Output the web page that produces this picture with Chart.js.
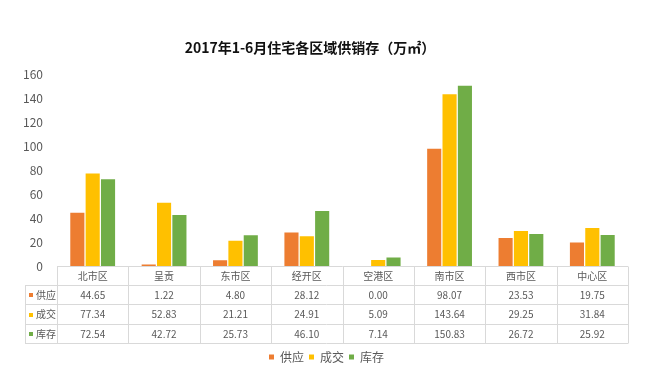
<!DOCTYPE html>
<html>
<head>
<meta charset="utf-8">
<script src="https://cdn.jsdelivr.net/npm/chart.js@4"></script>
<style>
html,body{margin:0;padding:0;background:#fff;}
#wrap{width:653px;height:369px;position:relative;}
</style>
</head>
<body>
<div id="wrap"><canvas id="c" width="653" height="369"></canvas></div>
<script>
const titleText = '2017年1-6月住宅各区域供销存（万㎡）';
const categories = ['北市区','呈贡','东市区','经开区','空港区','南市区','西市区','中心区'];
const seriesNames = ['供应','成交','库存'];
const supply = [44.65, 1.22, 4.80, 28.12, 0.00, 98.07, 23.53, 19.75];
const deal = [77.34, 52.83, 21.21, 24.91, 5.09, 143.64, 29.25, 31.84];
const stock = [72.54, 42.72, 25.73, 46.10, 7.14, 150.83, 26.72, 25.92];
const yTicks = [0, 20, 40, 60, 80, 100, 120, 140, 160];
const colors = ['#ED7D31', '#FFC000', '#70AD47'];

const FONT = "'Noto Sans CJK SC', 'Open Sans', sans-serif";
const TXT = '#595959';
const GRID = '#D9D9D9';

const seriesData = [supply, deal, stock];

const boxShift = {
  id: 'boxShift',
  afterLayout(chart) {
    if (chart.legend) chart.legend.right = chart.width;
    if (chart.titleBlock) chart.titleBlock.right -= 8;
  }
};

const tablePlugin = {
  id: 'dataTable',
  afterDraw(chart) {
    const ctx = chart.ctx;
    const xs = chart.scales.x;
    const area = chart.chartArea;
    const n = categories.length;
    const left = area.left, right = area.right;
    const w = (right - left) / n;
    const top = area.bottom;
    const rowH = 19.2;
    const labelLeft = 25;
    const ys = [top, top + rowH, top + 2 * rowH, top + 3 * rowH, top + 4 * rowH].map(v => Math.round(v) + 0.5);
    ctx.save();
    ctx.strokeStyle = GRID;
    ctx.lineWidth = 1;
    ctx.beginPath();
    ctx.moveTo(left, ys[0]); ctx.lineTo(right, ys[0]);
    for (let r = 1; r < ys.length; r++) { ctx.moveTo(labelLeft, ys[r]); ctx.lineTo(right, ys[r]); }
    ctx.moveTo(labelLeft + 0.5, ys[1]); ctx.lineTo(labelLeft + 0.5, ys[4]);
    for (let i = 0; i <= n; i++) {
      const x = Math.round(left + i * w) + 0.5;
      ctx.moveTo(x, ys[0]); ctx.lineTo(x, ys[4]);
    }
    ctx.stroke();
    ctx.fillStyle = TXT;
    ctx.font = '10px ' + FONT;
    ctx.textAlign = 'center';
    ctx.textBaseline = 'middle';
    for (let i = 0; i < n; i++) {
      const cx = xs.getPixelForValue(i);
      ctx.fillText(categories[i], cx, (ys[0] + ys[1]) / 2);
      for (let s = 0; s < 3; s++) {
        ctx.fillText(seriesData[s][i].toFixed(2), cx, (ys[s + 1] + ys[s + 2]) / 2);
      }
    }
    ctx.textAlign = 'left';
    for (let s = 0; s < 3; s++) {
      const cy = (ys[s + 1] + ys[s + 2]) / 2;
      ctx.fillStyle = colors[s];
      ctx.fillRect(29, Math.round(cy) - 2, 4, 4);
      ctx.fillStyle = TXT;
      ctx.fillText(seriesNames[s], 36, cy);
    }
    ctx.restore();
  }
};

new Chart(document.getElementById('c'), {
  type: 'bar',
  data: {
    labels: categories,
    datasets: seriesNames.map((name, s) => ({
      label: name,
      data: seriesData[s],
      backgroundColor: colors[s],
      borderWidth: 0,
      barPercentage: 0.92,
      categoryPercentage: 0.645
    }))
  },
  options: {
    responsive: false,
    animation: false,
    devicePixelRatio: 1,
    layout: { padding: { top: 0, right: 25, bottom: -4, left: 0 } },
    plugins: {
      title: {
        display: true,
        text: titleText,
        color: '#111',
        font: { family: FONT, size: 14, weight: 'bold' },
        padding: { top: 39, bottom: 19 }
      },
      legend: {
        position: 'bottom',
        labels: {
          color: TXT,
          font: { family: FONT, size: 12 },
          usePointStyle: true,
          pointStyle: 'rect',
          boxWidth: 5,
          boxHeight: 5,
          padding: 5
        }
      },
      tooltip: { enabled: false }
    },
    scales: {
      x: {
        grid: { display: false },
        border: { display: false },
        ticks: { display: false },
        afterFit(scale) { scale.height = 80; }
      },
      y: {
        min: 0,
        max: 160,
        afterBuildTicks(scale) { scale.ticks = yTicks.map(v => ({ value: v })); },
        grid: { display: false, drawTicks: false },
        border: { display: false },
        ticks: { color: TXT, font: { family: FONT, size: 12 }, padding: 14 },
        afterFit(scale) { scale.width = 57; }
      }
    }
  },
  plugins: [boxShift, tablePlugin]
});
</script>
</body>
</html>
